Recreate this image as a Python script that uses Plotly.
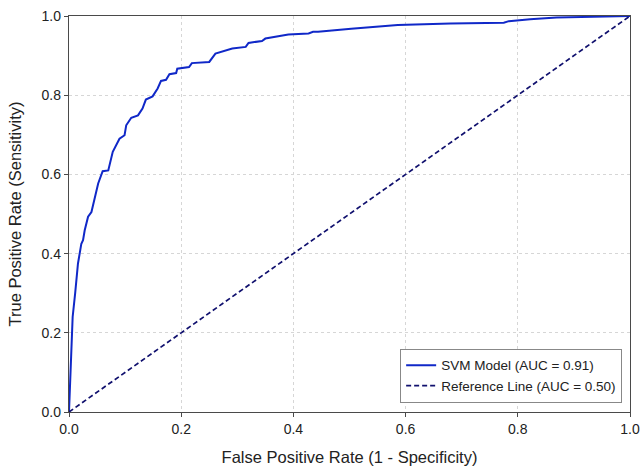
import plotly.graph_objects as go

# ROC curve points
fpr = [0.0, 0.002, 0.0035, 0.0065, 0.011, 0.016, 0.022, 0.025, 0.028, 0.034, 0.040,
       0.046, 0.052, 0.060, 0.070, 0.078, 0.090, 0.099, 0.102, 0.111, 0.123, 0.131,
       0.137, 0.149, 0.158, 0.164, 0.173, 0.179, 0.191, 0.193, 0.214, 0.219, 0.250,
       0.261, 0.291, 0.315, 0.320, 0.344, 0.350, 0.391, 0.427, 0.435, 0.444, 0.503,
       0.586, 0.680, 0.775, 0.784, 0.822, 0.869, 1.0]
tpr = [0.0, 0.08, 0.139, 0.24, 0.30, 0.375, 0.425, 0.434, 0.459, 0.493, 0.505,
       0.543, 0.577, 0.608, 0.610, 0.657, 0.690, 0.699, 0.724, 0.743, 0.749, 0.766,
       0.789, 0.797, 0.817, 0.836, 0.839, 0.853, 0.856, 0.867, 0.871, 0.881, 0.884,
       0.905, 0.918, 0.922, 0.932, 0.937, 0.943, 0.953, 0.956, 0.960, 0.960, 0.968,
       0.977, 0.981, 0.983, 0.987, 0.992, 0.996, 1.0]
ref_x = [0.0, 1.0]
ref_y = [0.0, 1.0]
tick_vals = [0.0, 0.2, 0.4, 0.6, 0.8, 1.0]
tick_text = ["0.0", "0.2", "0.4", "0.6", "0.8", "1.0"]

fig = go.Figure()
fig.add_trace(go.Scatter(x=fpr, y=tpr, mode="lines", name="SVM Model (AUC = 0.91)",
                         line=dict(color="#1028c8", width=2), cliponaxis=False))
fig.add_trace(go.Scatter(x=ref_x, y=ref_y, mode="lines", name="Reference Line (AUC = 0.50)",
                         line=dict(color="#10106e", width=1.7, dash="5px,3px"), cliponaxis=False))

axis_common = dict(range=[0, 1], tickvals=tick_vals, ticktext=tick_text,
                   showline=True, mirror=True, linecolor="#4a4a4a", linewidth=1.3,
                   ticks="outside", ticklen=4, tickcolor="#4a4a4a",
                   showgrid=True, gridcolor="#d6d6d6", griddash="3px,3px", gridwidth=1,
                   zeroline=False, automargin=False, ticklabeloverflow="allow",
                   tickfont=dict(size=14, color="#222222"))

fig.update_xaxes(title=dict(text="False Positive Rate (1 - Specificity)",
                            font=dict(size=16.5, color="#222222")), **axis_common)
fig.update_yaxes(title=dict(text="True Positive Rate (Sensitivity)",
                            font=dict(size=16.5, color="#222222")), **axis_common)

fig.update_layout(
    width=641, height=466,
    margin=dict(l=69, r=11, t=16, b=54),
    paper_bgcolor="white", plot_bgcolor="white",
    font=dict(family="Liberation Sans, Arial, sans-serif", color="#222222"),
    legend=dict(x=0.986, y=0.023, xanchor="right", yanchor="bottom",
                bgcolor="white", bordercolor="#888888", borderwidth=1,
                font=dict(size=13.5), itemwidth=30),
)

fig.write_html("out.html", config={"displayModeBar": False},
               post_script="document.body.style.margin='0';document.body.style.padding='0';")
